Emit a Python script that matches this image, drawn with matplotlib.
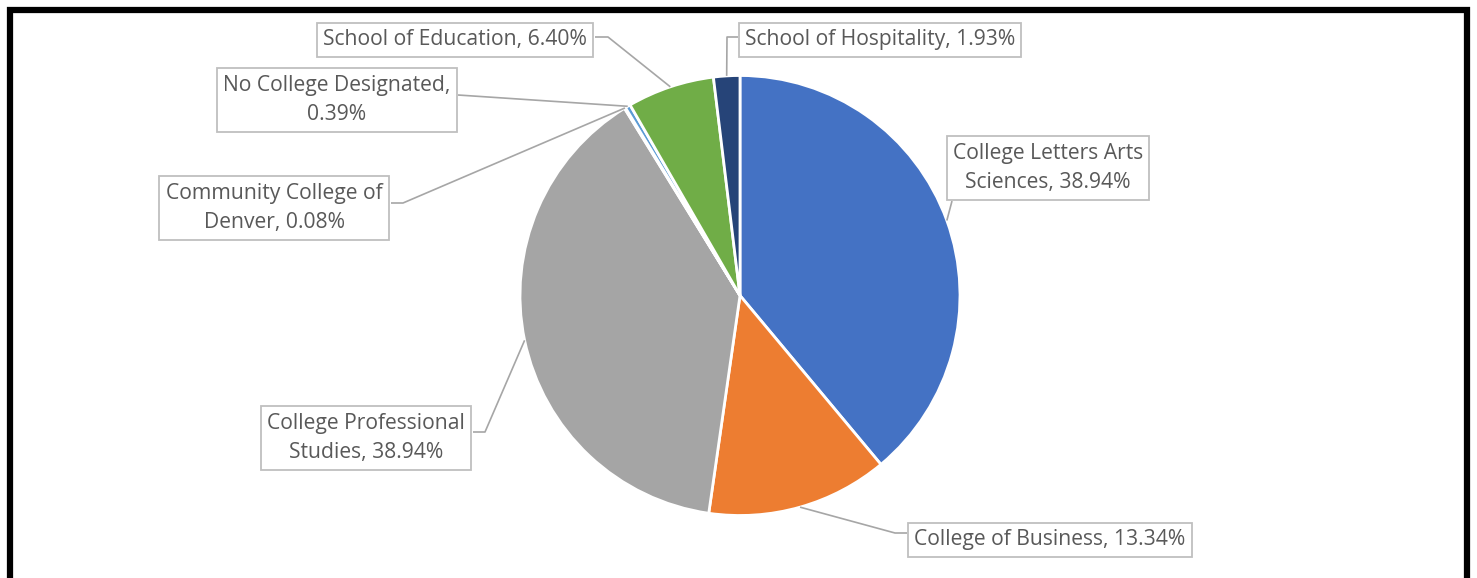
import matplotlib.pyplot as plt
from matplotlib.patches import Rectangle
import numpy as np

# data
labels = ['College Letters Arts\nSciences', 'College of Business', 'College Professional\nStudies',
          'Community College of\nDenver', 'No College Designated,\n', 'School of Education',
          'School of Hospitality']
values = [38.94, 13.34, 38.94, 0.08, 0.39, 6.40, 1.93]
colors = ['#4472C4', '#ED7D31', '#A5A5A5', '#FFC000', '#5B9BD5', '#70AD47', '#264478']

W, H = 1477, 578
cx, cy, rad = 740, H - 295.5, 220

# label layout in pixel coords (top-left origin): text centre, line start on box, elbow
label_pos = [(1048, 168), (1050, 540), (366, 438), (274, 208), (337, 100), (455, 40), (880, 40)]
line_start = [(952, 201), (907, 533), (473, 432), (391, 203), (458, 95), (595, 37), (738, 37)]
elbow = [None, (895, 533), (485, 432), (403, 203), None, (608, 37), (727, 37)]

fig = plt.figure(figsize=(W / 100, H / 100), dpi=100)
ax = fig.add_axes([0, 0, 1, 1])

wedges, _ = ax.pie(values, colors=colors, startangle=90, counterclock=False,
                   center=(cx, cy), radius=rad, frame=True,
                   wedgeprops=dict(edgecolor='white', linewidth=2))
ax.set_xlim(0, W)
ax.set_ylim(0, H)
ax.set_aspect('equal')
ax.axis('off')

for i, w in enumerate(wedges):
    mid = np.deg2rad((w.theta1 + w.theta2) / 2)
    px, py = cx + rad * np.cos(mid), cy + rad * np.sin(mid)
    xs = [line_start[i][0]]
    ys = [H - line_start[i][1]]
    if elbow[i] is not None:
        xs.append(elbow[i][0])
        ys.append(H - elbow[i][1])
    xs.append(px)
    ys.append(py)
    ax.plot(xs, ys, color='#A6A6A6', lw=1.2, zorder=1, solid_capstyle='butt')

    if labels[i].endswith('\n'):
        txt = labels[i] + '%.2f%%' % values[i]
    else:
        txt = labels[i] + ', %.2f%%' % values[i]
    ax.text(label_pos[i][0], H - label_pos[i][1], txt, ha='center', va='center',
            fontsize=15.2, family='Open Sans', color='#595959', linespacing=1.55, zorder=3,
            bbox=dict(boxstyle='square,pad=0.3', fc='white', ec='#BFBFBF', lw=1.3))

# thick black frame (bottom edge falls outside the image)
fig.patches.append(Rectangle((10 / W, -0.05), (W - 20) / W, 1.05 - 10 / H,
                             transform=fig.transFigure, fill=False, ec='black', lw=4.5))

fig.savefig('out.png', dpi=100)
